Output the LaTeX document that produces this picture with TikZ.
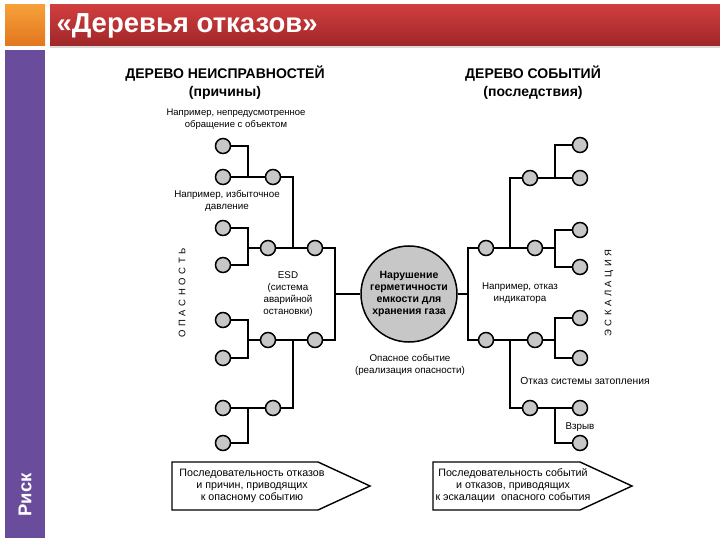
\documentclass[tikz,border=0pt]{standalone}
\usepackage{fontspec}
\setmainfont{Liberation Sans}
\usetikzlibrary{positioning}
\definecolor{barred}{RGB}{208,62,62}
\definecolor{bardark}{RGB}{160,38,40}
\definecolor{sqorange}{RGB}{246,160,58}
\definecolor{sqdark}{RGB}{226,118,30}
\definecolor{sidepurple}{RGB}{106,76,156}
\newcommand{\lsp}{\hspace{3.6pt}}
\tikzset{%
  % Specifications for style of nodes:
          leaf/.style = {circle, draw=black, line width=1.5pt, fill=black!22,
                         minimum size=15pt, inner sep=0pt},
           hub/.style = {circle, draw=black, line width=1.5pt, fill=black!22,
                         minimum size=96pt, inner sep=0pt, align=center,
                         font=\fontsize{10.5}{12.3}\selectfont\bfseries},
          note/.style = {align=center, font=\fontsize{9.8}{12}\selectfont},
       heading/.style = {align=center, font=\fontsize{14}{18}\selectfont\bfseries},
      sideword/.style = {rotate=90, font=\fontsize{9.5}{12}\selectfont},
          wire/.style = {line width=1.3pt},
         pencil/.style = {draw=black, line width=1.4pt, fill=white},
}

\begin{document}
\begin{tikzpicture}[x=1pt, y=-1pt]
  \useasboundingbox (0,0) rectangle (720,540);
  % Header and side bar
  \shade[top color=sqorange, bottom color=sqdark] (5,5) rectangle (45,46);
  \fill[black!15] (50,7) rectangle (720,48);
  \shade[top color=barred, bottom color=bardark] (50,5) rectangle (720,46);
  \fill[sidepurple] (5,50) rectangle (45,538);
  \node (title) [anchor=west, text=white, font=\fontsize{27.5}{30}\selectfont\bfseries]
        at (53,26) {«Деревья отказов»};
  \node (risk) [rotate=90, text=white, font=\fontsize{18.5}{20}\selectfont\bfseries]
        at (25,495) {Риск};

  % Headings
  \node (faulthead) [heading] at (225,83) {ДЕРЕВО НЕИСПРАВНОСТЕЙ\\(причины)};
  \node (eventhead) [heading] at (533,83) {ДЕРЕВО СОБЫТИЙ\\(последствия)};

  % Fault tree: leaves
  \node (L1a) [leaf] at (223,146) {};
  \node (L1b) [leaf] at (223,177) {};
  \node (L2a) [leaf] at (223,228) {};
  \node (L2b) [leaf] at (223,265) {};
  \node (L3a) [leaf] at (223,320) {};
  \node (L3b) [leaf] at (223,358) {};
  \node (L4a) [leaf] at (223,408) {};
  \node (L4b) [leaf] at (223,443) {};
  % Fault tree: inner events
  \node (M1) [leaf] at (273,177) {};
  \node (M2) [leaf] at (268,248) {};
  \node (M3) [leaf] at (268,340) {};
  \node (M4) [leaf] at (273,408) {};
  \node (T1) [leaf] at (315,248) {};
  \node (T2) [leaf] at (315,340) {};

  % Top event
  \node (hub) [hub] at (409,294) {Нарушение\\герметичности\\емкости для\\хранения газа};

  % Event tree
  \node (R1) [leaf] at (486,248) {};
  \node (R2) [leaf] at (486,340) {};
  \node (S1) [leaf] at (530,178) {};
  \node (S2) [leaf] at (535,248) {};
  \node (S3) [leaf] at (535,340) {};
  \node (S4) [leaf] at (530,408) {};
  \node (E1a) [leaf] at (580,145) {};
  \node (E1b) [leaf] at (580,178) {};
  \node (E2a) [leaf] at (580,230) {};
  \node (E2b) [leaf] at (580,267) {};
  \node (E3a) [leaf] at (580,318) {};
  \node (E3b) [leaf] at (580,358) {};
  \node (E4a) [leaf] at (580,408) {};
  \node (E4b) [leaf] at (580,443) {};

  % Junction points
  \coordinate (j1) at (248,177);
  \coordinate (j2) at (248,248);
  \coordinate (j3) at (248,340);
  \coordinate (j4) at (248,408);
  \coordinate (k1) at (293,248);
  \coordinate (k2) at (293,340);
  \coordinate (h1) at (335,294);
  \coordinate (h2) at (468,294);
  \coordinate (k3) at (510,248);
  \coordinate (k4) at (510,340);
  \coordinate (m1) at (555,178);
  \coordinate (m2) at (555,248);
  \coordinate (m3) at (555,340);
  \coordinate (m4) at (555,408);

  % Connectors, fault tree
  \draw[wire] (L1a) -| (j1);
  \draw[wire] (L1b) -- (M1);
  \draw[wire] (L2a) -| (j2);
  \draw[wire] (L2b) -| (j2);
  \draw[wire] (j2) -- (M2);
  \draw[wire] (L3a) -| (j3);
  \draw[wire] (L3b) -| (j3);
  \draw[wire] (j3) -- (M3);
  \draw[wire] (L4a) -- (M4);
  \draw[wire] (L4b) -| (j4);
  \draw[wire] (M1) -| (k1);
  \draw[wire] (M2) -- (T1);
  \draw[wire] (M4) -| (k2);
  \draw[wire] (M3) -- (T2);
  \draw[wire] (T1) -| (h1);
  \draw[wire] (T2) -| (h1);
  \draw[wire] (h1) -- (hub);

  % Connectors, event tree
  \draw[wire] (hub) -- (h2);
  \draw[wire] (h2) |- (R1);
  \draw[wire] (h2) |- (R2);
  \draw[wire] (R1) -- (S2);
  \draw[wire] (k3) |- (S1);
  \draw[wire] (R2) -- (S3);
  \draw[wire] (k4) |- (S4);
  \draw[wire] (S1) -- (E1b);
  \draw[wire] (m1) |- (E1a);
  \draw[wire] (S2) -- (m2);
  \draw[wire] (m2) |- (E2a);
  \draw[wire] (m2) |- (E2b);
  \draw[wire] (S3) -- (m3);
  \draw[wire] (m3) |- (E3a);
  \draw[wire] (m3) |- (E3b);
  \draw[wire] (S4) -- (E4a);
  \draw[wire] (m4) |- (E4b);

  % Labels
  \node (misuse)   [note, font=\fontsize{9.5}{12}\selectfont] at (236,119)
        {Например, непредусмотренное\\обращение с объектом};
  \node (pressure) [note] at (227,201) {Например, избыточное\\давление};
  \node (esd)      [note] at (288,294) {ESD\\(система\\аварийной\\остановки)};
  \node (hazard)   [note] at (410,365) {Опасное событие\\(реализация опасности)};
  \node (gauge)    [note] at (520,293) {Например, отказ\\индикатора};
  \node (flood)    [note, font=\fontsize{10.3}{12}\selectfont] at (585,381)
        {Отказ системы затопления};
  \node (blast)    [note] at (580,427) {Взрыв};
  \node (danger)   [sideword] at (182,293)
        {О\lsp П\lsp А\lsp С\lsp Н\lsp О\lsp С\lsp Т\lsp Ь};
  \node (escal)    [sideword] at (609,293)
        {Э\lsp С\lsp К\lsp А\lsp Л\lsp А\lsp Ц\lsp И\lsp Я};

  % Bottom pointers
  \draw[pencil] (172,462) -- (318,462) -- (370,486) -- (318,510) -- (172,510) -- cycle;
  \draw[pencil] (433,462) -- (580,462) -- (632,486) -- (580,510) -- (433,510) -- cycle;
  \node (causes) [note, font=\fontsize{10.7}{12}\selectfont] at (252,486)
        {Последовательность отказов\\и причин, приводящих\\к опасному событию};
  \node (effects) [note, font=\fontsize{10.7}{12}\selectfont] at (513,486)
        {Последовательность событий\\и отказов, приводящих\\к эскалации~ опасного события};
\end{tikzpicture}
\end{document}
